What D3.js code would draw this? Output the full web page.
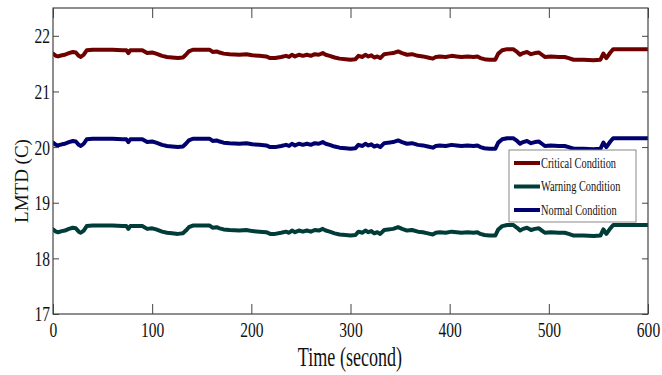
<!DOCTYPE html>
<html><head><meta charset="utf-8">
<script src="https://cdn.jsdelivr.net/npm/d3@7"></script>
<style>body{margin:0;background:#fff}svg{display:block}</style>
</head><body><svg id="c" width="662" height="375"></svg>
<script>
const times = [0,3,5,9,12,16,20,23,26,28,31,34,40,50,60,70,74,76,78,86,90,95,100,104,110,115,120,126,131,134,137,141,150,158,161,165,168,172,178,188,195,201,208,215,219,224,230,235,238,241,244,248,252,256,260,264,268,272,275,279,284,289,295,300,305,308,312,315,318,321,324,327,330,334,338,343,348,352,357,362,368,373,378,383,386,390,396,402,407,412,418,424,428,431,435,440,446,449,453,458,464,468,471,474,478,482,486,490,493,496,502,510,516,520,525,535,545,552,555,558,562,565,575,590,600];
const critical = [21.68,21.64,21.63,21.65,21.66,21.69,21.71,21.70,21.64,21.62,21.66,21.74,21.75,21.75,21.75,21.74,21.74,21.69,21.74,21.74,21.74,21.69,21.70,21.68,21.64,21.62,21.61,21.60,21.61,21.66,21.72,21.75,21.75,21.75,21.71,21.72,21.70,21.68,21.67,21.66,21.67,21.65,21.64,21.63,21.60,21.60,21.62,21.64,21.62,21.66,21.63,21.66,21.64,21.66,21.64,21.67,21.66,21.69,21.66,21.64,21.61,21.59,21.58,21.57,21.58,21.64,21.62,21.66,21.63,21.65,21.61,21.63,21.60,21.67,21.68,21.69,21.72,21.69,21.66,21.67,21.64,21.63,21.61,21.59,21.62,21.63,21.62,21.64,21.63,21.62,21.63,21.62,21.63,21.60,21.58,21.57,21.57,21.68,21.74,21.76,21.76,21.71,21.66,21.69,21.71,21.67,21.69,21.70,21.66,21.62,21.63,21.62,21.62,21.60,21.57,21.57,21.56,21.57,21.68,21.60,21.70,21.76,21.76,21.76,21.76];
const warning = [18.52,18.48,18.47,18.49,18.50,18.53,18.55,18.54,18.48,18.46,18.50,18.58,18.59,18.59,18.59,18.58,18.58,18.53,18.58,18.58,18.58,18.53,18.54,18.52,18.48,18.46,18.45,18.44,18.45,18.50,18.56,18.59,18.59,18.59,18.55,18.56,18.54,18.52,18.51,18.50,18.51,18.49,18.48,18.47,18.44,18.44,18.46,18.48,18.46,18.50,18.47,18.50,18.48,18.50,18.48,18.51,18.50,18.53,18.50,18.48,18.45,18.43,18.42,18.41,18.42,18.48,18.46,18.50,18.47,18.49,18.45,18.47,18.44,18.51,18.52,18.53,18.56,18.53,18.50,18.51,18.48,18.47,18.45,18.43,18.46,18.47,18.46,18.48,18.47,18.46,18.47,18.46,18.47,18.44,18.42,18.41,18.41,18.52,18.58,18.60,18.60,18.55,18.50,18.53,18.55,18.51,18.53,18.54,18.50,18.46,18.47,18.46,18.46,18.44,18.41,18.41,18.40,18.41,18.52,18.44,18.54,18.60,18.60,18.60,18.60];
const normal = [20.08,20.04,20.03,20.05,20.06,20.09,20.11,20.10,20.04,20.02,20.06,20.14,20.15,20.15,20.15,20.14,20.14,20.09,20.14,20.14,20.14,20.09,20.10,20.08,20.04,20.02,20.01,20.00,20.01,20.06,20.12,20.15,20.15,20.15,20.11,20.12,20.10,20.08,20.07,20.06,20.07,20.05,20.04,20.03,20.00,20.00,20.02,20.04,20.02,20.06,20.03,20.06,20.04,20.06,20.04,20.07,20.06,20.09,20.06,20.04,20.01,19.99,19.98,19.97,19.98,20.04,20.02,20.06,20.03,20.05,20.01,20.03,20.00,20.07,20.08,20.09,20.12,20.09,20.06,20.07,20.04,20.03,20.01,19.99,20.02,20.03,20.02,20.04,20.03,20.02,20.03,20.02,20.03,20.00,19.98,19.97,19.97,20.08,20.14,20.16,20.16,20.11,20.06,20.09,20.11,20.07,20.09,20.10,20.06,20.02,20.03,20.02,20.02,20.00,19.97,19.97,19.96,19.97,20.08,20.00,20.10,20.16,20.16,20.16,20.16];
const seriesNames = ["Critical Condition","Warning Condition","Normal Condition"];
const seriesColors = ["#6e0000","#003c38","#00006e"];
const xTicks = [0,100,200,300,400,500,600];
const yTicks = [17,18,19,20,21,22];

const svg = d3.select("#c");
const L=53, R=648, T=8, B=314;
const x = d3.scaleLinear().domain([0,600]).range([L,R]);
const y = d3.scaleLinear().domain([17,22.5]).range([B,T]);
const font = "'Liberation Serif','Times New Roman',serif";

svg.append("defs").append("clipPath").attr("id","clip")
  .append("rect").attr("x",L).attr("y",T).attr("width",R-L).attr("height",B-T);

const allSeries = [critical, warning, normal];
const g = svg.append("g").attr("clip-path","url(#clip)");
allSeries.forEach((s,k)=>{
  g.append("path").datum(s).attr("d", d3.line().x((d,i)=>x(times[i])).y(d=>y(d)))
   .attr("fill","none").attr("stroke",seriesColors[k]).attr("stroke-width",4)
   .attr("stroke-linejoin","round").attr("stroke-linecap","round");
});

function styleAxis(sel){
  sel.select(".domain").remove();
  sel.selectAll(".tick line").attr("stroke","#444").attr("stroke-width",1);
}
const xa = svg.append("g").attr("transform",`translate(0,${B})`)
  .call(d3.axisBottom(x).tickValues(xTicks).tickSize(-10).tickFormat(d3.format("d")));
styleAxis(xa);
xa.selectAll(".tick text").attr("font-family",font).attr("font-size",21).attr("fill","#111")
  .attr("y",0).attr("dy",0).attr("transform","translate(0,23) scale(0.74,1)");
const xt = svg.append("g").attr("transform",`translate(0,${T})`)
  .call(d3.axisTop(x).tickValues(xTicks).tickSize(-10).tickFormat(""));
styleAxis(xt);
const ya = svg.append("g").attr("transform",`translate(${L},0)`)
  .call(d3.axisLeft(y).tickValues(yTicks).tickSize(-6).tickFormat(d3.format("d")));
styleAxis(ya);
ya.selectAll(".tick text").attr("font-family",font).attr("font-size",21).attr("fill","#111")
  .attr("x",0).attr("dy","0.33em").attr("text-anchor","end").attr("transform","translate(-3,0) scale(0.74,1)");
const yr = svg.append("g").attr("transform",`translate(${R},0)`)
  .call(d3.axisRight(y).tickValues(yTicks).tickSize(-6).tickFormat(""));
styleAxis(yr);
svg.append("rect").attr("x",L).attr("y",T).attr("width",R-L).attr("height",B-T)
  .attr("fill","none").attr("stroke","#444").attr("stroke-width",1.2);

svg.append("text").attr("font-family",font).attr("font-size",27).attr("fill","#111")
  .attr("text-anchor","middle").attr("transform","translate(350,366) scale(0.67,1)").text("Time (second)");
svg.append("text").attr("font-family",font).attr("font-size",19).attr("fill","#111")
  .attr("text-anchor","middle").attr("transform","translate(28,181) rotate(-90)").text("LMTD (C)");

const lg = svg.append("g");
lg.append("rect").attr("x",509).attr("y",150).attr("width",127).attr("height",72)
  .attr("fill","#fff").attr("stroke","#888").attr("stroke-width",1);
const rowY = d3.scalePoint().domain(seriesNames).range([163,210]);
seriesNames.forEach((n,k)=>{
  lg.append("line").attr("x1",514).attr("x2",540).attr("y1",rowY(n)).attr("y2",rowY(n))
    .attr("stroke",seriesColors[k]).attr("stroke-width",4);
  lg.append("text").attr("font-family",font).attr("font-size",14).attr("fill","#111")
    .attr("transform",`translate(541,${rowY(n)+4.5}) scale(0.74,1)`).text(n);
});
</script></body></html>
